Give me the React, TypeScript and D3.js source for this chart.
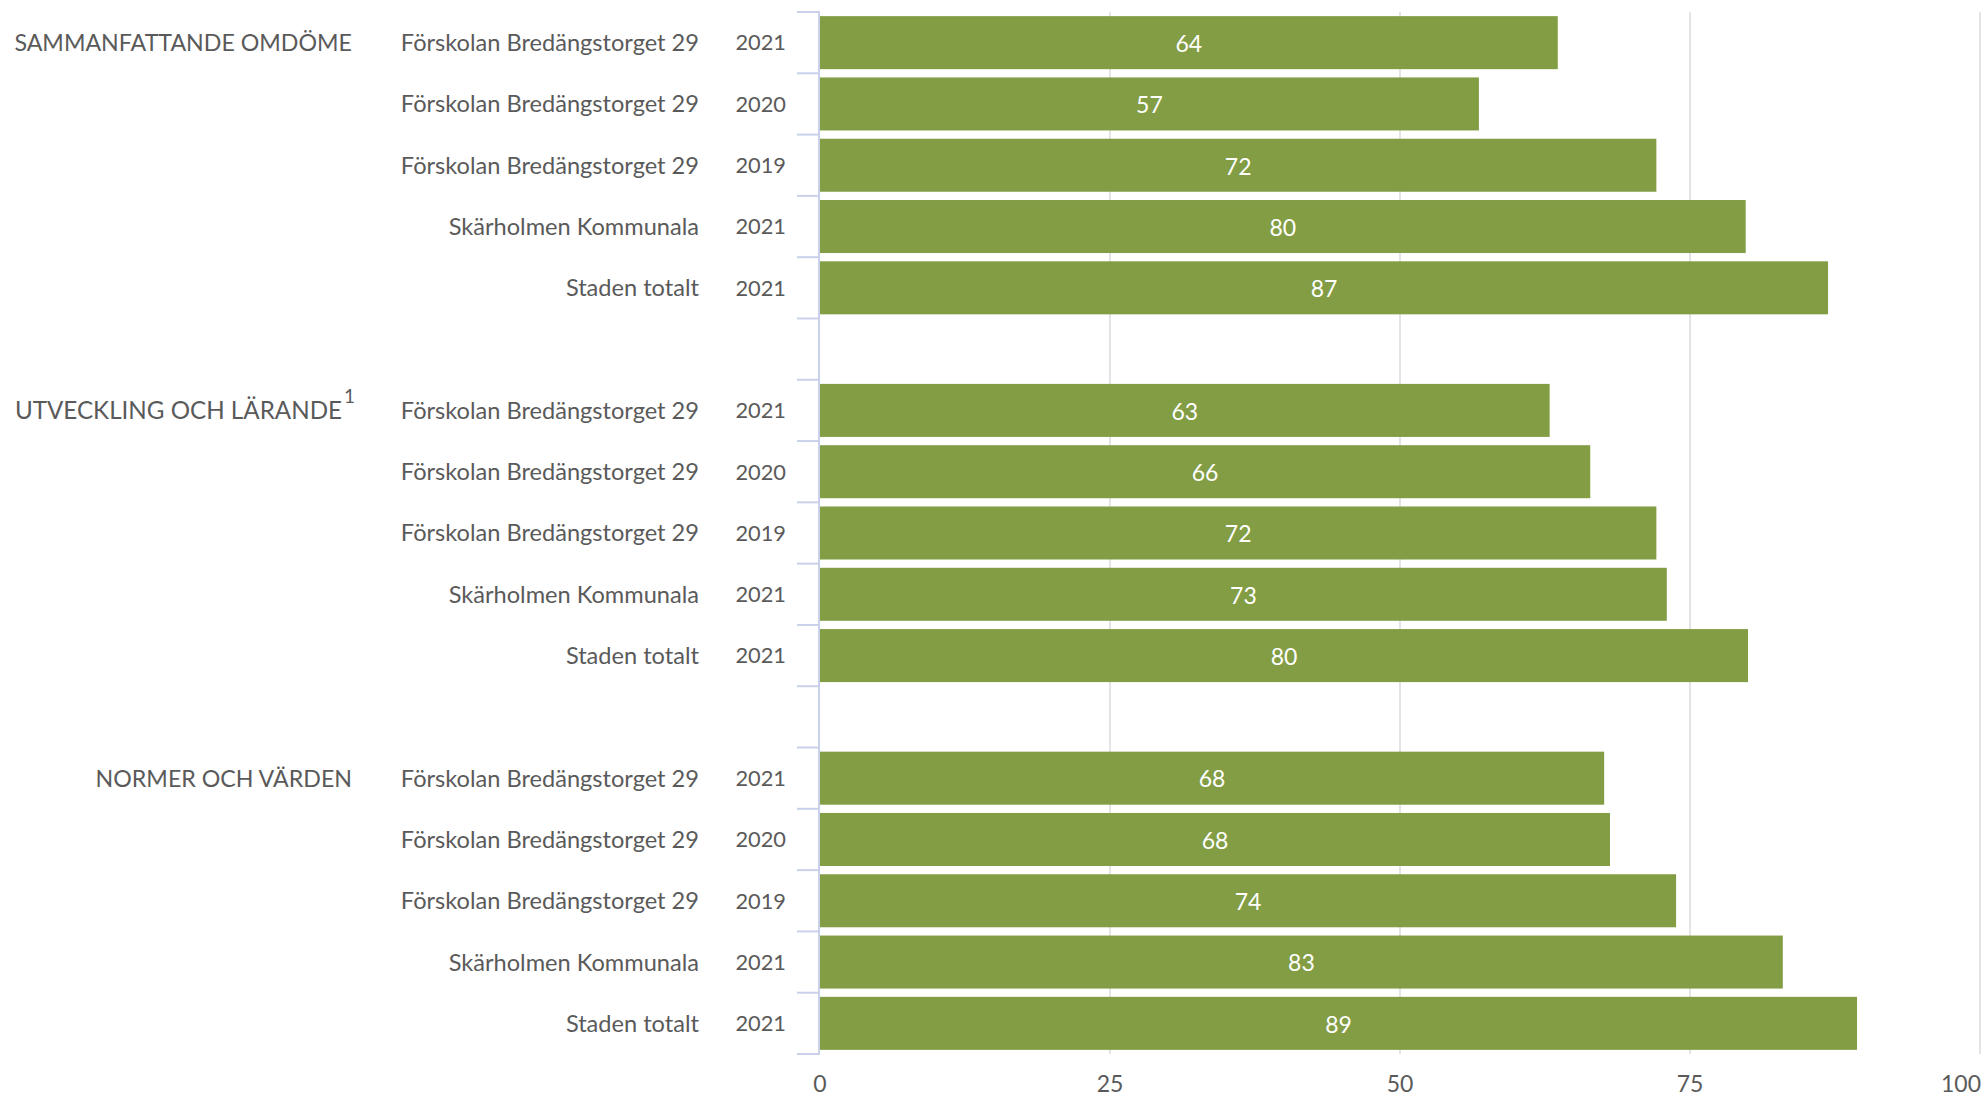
import React from "react";
import * as d3 from "d3";

const groups = ["SAMMANFATTANDE OMDÖME", "UTVECKLING OCH LÄRANDE", "NORMER OCH VÄRDEN"];
const groupSup = ["", "1", ""];
const units = ["Förskolan Bredängstorget 29", "Förskolan Bredängstorget 29", "Förskolan Bredängstorget 29", "Skärholmen Kommunala", "Staden totalt"];
const years = ["2021", "2020", "2019", "2021", "2021"];
const valuesSammanfattande = [63.6, 56.8, 72.1, 79.8, 86.9];
const valuesUtveckling = [62.9, 66.4, 72.1, 73.0, 80.0];
const valuesNormer = [67.6, 68.1, 73.8, 83.0, 89.4];
const groupValues = [valuesSammanfattande, valuesUtveckling, valuesNormer];
const xTicks = [0, 25, 50, 75, 100];

const W = 1985;
const H = 1098;
const FONT = "Lato, 'DejaVu Sans', sans-serif";
const TEXT = "#5a5a5a";
const BAR = "#829d44";
const AXIS = "#c9d1ea";
const GRID = "#e4e4e4";

type Row = { key: string; group: number; idx: number; unit: string; year: string; value: number };

const rows: Row[] = [];
const slots: string[] = [];
groups.forEach((g, gi) => {
  units.forEach((u, i) => {
    const key = `${gi}-${i}`;
    slots.push(key);
    rows.push({ key, group: gi, idx: i, unit: u, year: years[i], value: groupValues[gi][i] });
  });
  if (gi < groups.length - 1) slots.push(`gap-${gi}`);
});

export default function App() {
  const x = d3.scaleLinear().domain([0, 100]).range([820, 1980]);
  const y = d3.scaleBand<string>().domain(slots).range([12, 1054]).paddingInner(0.135).paddingOuter(0.0675);
  const step = y.step();
  const top = 12;
  const bottom = 1054;
  const boundaries = d3.range(slots.length + 1).map((i) => top + i * step);

  return (
    <svg width={W} height={H} style={{ position: "absolute", left: 0, top: 0, background: "#fff" }} fontFamily={FONT}>
      {xTicks.filter((t) => t > 0).map((t) => (
        <line key={`g${t}`} x1={x(t)} x2={x(t)} y1={top} y2={bottom} stroke={GRID} strokeWidth={2} />
      ))}
      {boundaries.map((b, i) => (
        <line key={`t${i}`} x1={797} x2={x(0)} y1={b} y2={b} stroke={AXIS} strokeWidth={2} />
      ))}
      <line x1={x(0) - 1} x2={x(0) - 1} y1={top} y2={bottom} stroke={AXIS} strokeWidth={2} />
      {rows.map((r) => {
        const y0 = y(r.key)!;
        const bw = y.bandwidth();
        const cy = y0 + bw / 2;
        return (
          <g key={r.key}>
            <rect x={x(0)} y={y0} width={x(r.value) - x(0)} height={bw} fill={BAR} />
            <text x={(x(0) + x(r.value)) / 2} y={cy + 1} dy="0.36em" textAnchor="middle" fill="#fff" fontSize={23}>
              {Math.round(r.value)}
            </text>
            <text x={699} y={cy} dy="0.36em" textAnchor="end" fill={TEXT} fontSize={23.6}>
              {r.unit}
            </text>
            <text x={786} y={cy} dy="0.36em" textAnchor="end" fill={TEXT} fontSize={21.8}>
              {r.year}
            </text>
            {r.idx === 0 && (
              <text x={groupSup[r.group] ? 342 : 352} y={cy} dy="0.36em" textAnchor="end" fill={TEXT} fontSize={groupSup[r.group] ? 24.2 : 23.2}>
                {groups[r.group]}
              </text>
            )}
            {r.idx === 0 && groupSup[r.group] && (
              <text x={344} y={cy - 14} dy="0.36em" textAnchor="start" fill={TEXT} fontSize={19}>
                {groupSup[r.group]}
              </text>
            )}
          </g>
        );
      })}
      {xTicks.map((t, i) => (
        <text
          key={`xl${t}`}
          x={i === xTicks.length - 1 ? 1981 : x(t)}
          y={1084}
          dy="0.36em"
          textAnchor={i === xTicks.length - 1 ? "end" : "middle"}
          fill={TEXT}
          fontSize={23}
        >
          {t}
        </text>
      ))}
    </svg>
  );
}
